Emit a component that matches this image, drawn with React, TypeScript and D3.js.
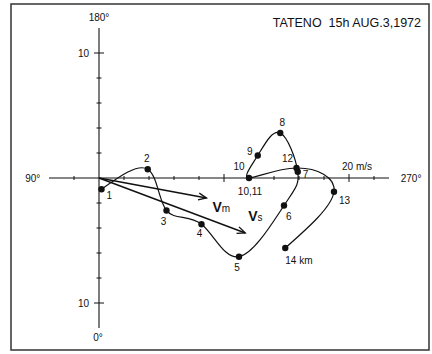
import React from "react";
import * as d3 from "d3";

// Hodograph components (m/s): u toward 270° (right), v toward 180° (up)
const levels = ["1", "2", "3", "4", "5", "6", "7", "8", "9", "10,11", "12", "13", "14 km"];
const uVals = [0.2, 3.9, 5.4, 8.2, 11.2, 14.8, 15.9, 14.5, 12.7, 12.0, 15.8, 18.8, 14.9];
const vVals = [-0.9, 0.7, -2.6, -3.7, -6.3, -2.2, 0.5, 3.6, 1.8, 0.0, 0.8, -1.1, -5.6];
// label offsets (px) relative to points
const labelDx = [5, -1, -3, -2, -2, 2, 5, 2, -8, 1, -9, 5, 0];
const labelDy = [10, -7, 14, 13, 14, 14, 6, -7, -1, 17, -6, 12, 16];
const labelAnchor = ["start", "middle", "middle", "middle", "middle", "start", "start", "middle", "middle", "middle", "middle", "start", "start"];

const vectorNames = ["m", "s"];
const vecU = [8.6, 11.7];
const vecV = [-1.6, -4.4];

const hTicks = [-2, 2, 4, 6, 8, 10, 12, 14, 16, 18, 20, 22];
const vTicks = [-10, -8, -6, -4, -2, 2, 4, 6, 8, 10];
const majorTicks = [10, 20, -10];

export default function App() {
  const x = d3.scaleLinear().domain([0, 10]).range([99, 224]);
  const y = d3.scaleLinear().domain([0, 10]).range([178, 53]);
  const pts: [number, number][] = uVals.map((u, i) => [x(u), y(vVals[i])]);
  const line = d3.line().curve(d3.curveNatural);
  const font = "'Liberation Sans Narrow', 'Liberation Sans', Arial, sans-serif";

  return (
    <svg width={432} height={354} style={{ position: "absolute", left: 0, top: 0, background: "#fff" }} fontFamily={font}>
      <defs>
        <marker id="ah" viewBox="-10 -5 12 10" refX={0} refY={0} markerWidth={12} markerHeight={10} orient="auto" markerUnits="userSpaceOnUse">
          <path d="M-8,-3.5 L0,0 L-8,3.5" fill="none" stroke="#111" strokeWidth={1.3} />
        </marker>
      </defs>
      <rect x={11} y={4} width={418} height={346} fill="none" stroke="#333" strokeWidth={1.5} />
      {/* axes */}
      <line x1={x(-4)} x2={x(23.2)} y1={y(0)} y2={y(0)} stroke="#111" strokeWidth={1.1} />
      <line x1={x(0)} x2={x(0)} y1={y(12)} y2={y(-12)} stroke="#111" strokeWidth={1.1} />
      {hTicks.map((t) => (
        <line key={"h" + t} x1={x(t)} x2={x(t)} y1={y(0) - (majorTicks.includes(t) ? 4 : 2)} y2={y(0) + (majorTicks.includes(t) ? 4 : 2)} stroke="#111" strokeWidth={1} />
      ))}
      {vTicks.map((t) => (
        <line key={"v" + t} x1={x(0) - (Math.abs(t) === 10 ? 5 : 2.5)} x2={x(0) + (Math.abs(t) === 10 ? 5 : 2.5)} y1={y(t)} y2={y(t)} stroke="#111" strokeWidth={1} />
      ))}
      <g fontSize={10} fill="#111">
        <text x={x(0)} y={21} textAnchor="middle">180°</text>
        <text x={x(0) - 1} y={341} textAnchor="middle">0°</text>
        <text x={x(-4.7)} y={y(0) + 4} textAnchor="end">90°</text>
        <text x={x(23.5) + 8} y={y(0) + 4}>270°</text>
        <text x={x(0) - 10} y={y(10) + 4} textAnchor="end">10</text>
        <text x={x(0) - 10} y={y(-10) + 4} textAnchor="end">10</text>
        <text x={x(10) + 15} y={y(0) - 8} textAnchor="middle">10</text>
        <text x={x(20) - 7} y={y(0) - 8}>20 m/s</text>
      </g>
      <text x={421} y={27} fontSize={12.5} textAnchor="end" fill="#111">TATENO{"\u00a0\u00a0"}15h AUG.3,1972</text>
      {/* vectors */}
      {vectorNames.map((n, i) => (
        <line key={"vec" + n} x1={x(0)} y1={y(0)} x2={x(vecU[i])} y2={y(vecV[i])} stroke="#111" strokeWidth={1.4} markerEnd="url(#ah)" />
      ))}
      {vectorNames.map((n, i) => (
        <text key={"vl" + n} x={x(vecU[i]) + (i === 0 ? 6 : 3)} y={y(vecV[i]) + (i === 0 ? 14 : -12)} fontSize={14} fontWeight="bold" fill="#111">
          V<tspan fontSize={10} fontWeight="normal">{n}</tspan>
        </text>
      ))}
      {/* hodograph */}
      <path d={line(pts) || ""} fill="none" stroke="#111" strokeWidth={1.2} />
      {pts.map((p, i) => (
        <circle key={"p" + i} cx={p[0]} cy={p[1]} r={3.2} fill="#111" />
      ))}
      <g fontSize={10} fill="#111">
        {pts.map((p, i) => (
          <text key={"l" + i} x={p[0] + labelDx[i]} y={p[1] + labelDy[i]} textAnchor={labelAnchor[i]}>{levels[i]}</text>
        ))}
      </g>
    </svg>
  );
}
